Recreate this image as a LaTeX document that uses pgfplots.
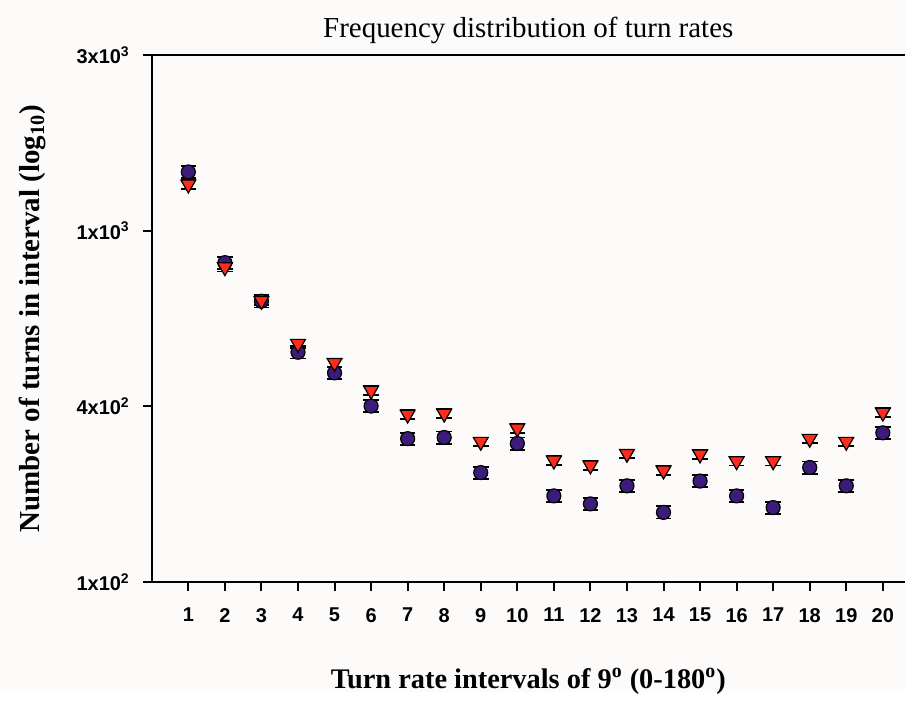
\documentclass[border=0pt]{standalone}
\usepackage{fontspec}
\setmainfont{Liberation Serif}
\newfontfamily\ticksf{Liberation Sans}
\usepackage{pgfplots}
\pgfplotsset{compat=1.18}
\definecolor{dotpurple}{HTML}{3D1B7A}
\definecolor{trired}{HTML}{FF2B1C}
\definecolor{bgcol}{HTML}{FDFBFA}

% turn counts per 9 degree interval
\pgfplotstableread{
x  a     b
1  1469  1354
2  811   788
3  630   632
4  451   477
5  394   421
6  317   351
7  256   300
8  258   302
9  205   251
10 248   274
11 176   222
12 167   215
13 188   232
14 158   208
15 194   231
16 176   221
17 163   221
18 212   256
19 188   251
20 266   304
}\turns

\begin{document}
\begin{tikzpicture}
\fill[bgcol] (-76pt,-55pt) rectangle (377pt,291.5pt);
\begin{axis}[at={(0,0)},anchor=south west,scale only axis,width=377pt,height=264pt,
  ymode=log,ymin=100,ymax=3162.28,xmin=0,xmax=20.6,
  axis x line=bottom,axis y line=left,axis line style={-,line width=1.25pt},
  xtick pos=bottom,ytick pos=left,tick align=outside,major tick length=4.5pt,
  tick style={line width=1pt,black},minor tick num=0,
  xtick={1,...,20},
  ytick={100,316.228,1000,3162.28},
  yticklabels={1x10\textsuperscript{2},4x10\textsuperscript{2},1x10\textsuperscript{3},3x10\textsuperscript{3}},
  /pgf/number format/assume math mode=true,
  tick label style={font=\ticksf\bfseries\fontsize{10}{12}\selectfont},
  xticklabel style={yshift=-5pt},
  yticklabel style={xshift=-3pt},
  title={Frequency distribution of turn rates},
  title style={at={(axis description cs:0.5,1.0246)},anchor=center,font=\fontsize{14.5}{17}\selectfont},
  xlabel={Turn rate intervals of 9\textsuperscript{o} (0-180\textsuperscript{o})},
  xlabel style={at={(axis description cs:0.5,-0.1875)},anchor=center,font=\bfseries\fontsize{14.2}{17}\selectfont},
  ylabel={Number of turns in interval (log\textsubscript{10})},
  ylabel style={at={(axis description cs:-0.158,0.5)},anchor=center,font=\bfseries\fontsize{14.5}{17}\selectfont},
  error bars/error bar style={black,line width=0.7pt},
  error bars/error mark options={black,rotate=90,line width=0.9pt,mark size=3.9pt}]
\draw[line width=1.25pt] (rel axis cs:0,1) -- (rel axis cs:1,1);
% error bars first so the markers cover the stems
\addplot[only marks,mark=none,error bars/.cd,y dir=both,y fixed relative=0.04] table[x=x,y=a] {\turns};
\addplot[only marks,mark=none,error bars/.cd,y dir=both,y fixed relative=0.028] table[x=x,y=b] {\turns};
\addplot[only marks,mark=*,mark size=3.5pt,mark options={fill=dotpurple,draw=black,line width=0.6pt}] table[x=x,y=a] {\turns};
\addplot[only marks,mark=triangle*,mark size=4.3pt,mark options={rotate=180,fill=trired,draw=black,line width=0.6pt}] table[x=x,y=b] {\turns};
\end{axis}
\end{tikzpicture}
\end{document}
